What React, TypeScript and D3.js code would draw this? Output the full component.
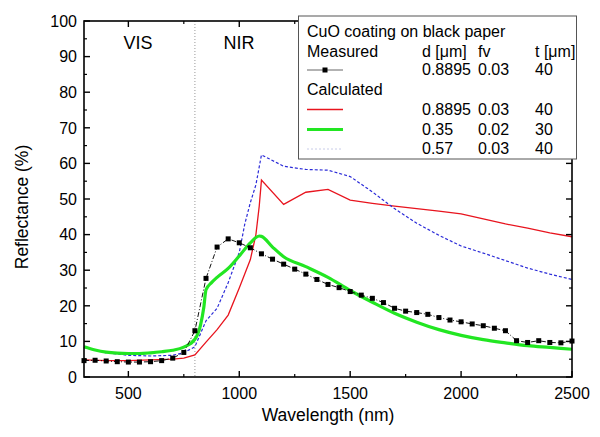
import { scaleLinear, line, curveMonotoneX } from "d3";

const width = 600;
const height = 437;

// measured CuO coating on black paper
const measuredWl = [
  300, 350, 400, 450, 500, 550, 600, 650, 700, 750, 800, 850, 900, 950, 1000,
  1050, 1100, 1150, 1200, 1250, 1300, 1350, 1400, 1450, 1500, 1550, 1600, 1650,
  1700, 1750, 1800, 1850, 1900, 1950, 2000, 2050, 2100, 2150, 2200, 2250, 2300,
  2350, 2400, 2450, 2500,
];
const measuredR = [
  4.6, 4.7, 4.5, 4.3, 4.2, 4.2, 4.3, 4.6, 5.3, 6.9, 13.0, 27.7, 36.5, 38.8,
  37.7, 36.3, 34.6, 33.1, 31.7, 30.3, 28.9, 27.4, 26.0, 25.1, 24.0, 23.0, 22.1,
  20.9, 19.3, 18.5, 18.1, 17.6, 16.7, 16.0, 15.5, 14.9, 14.4, 13.7, 13.0, 10.2,
  9.7, 10.2, 9.7, 9.6, 10.1,
];

// calculated, d = 0.8895
const redWl = [
  300, 400, 500, 600, 700, 750, 800, 850, 900, 950, 1000, 1050, 1075, 1090,
  1100, 1200, 1300, 1400, 1500, 1600, 1700, 1800, 1900, 2000, 2100, 2200, 2300,
  2400, 2500,
];
const redR = [
  4.8, 4.6, 4.6, 4.8, 5.0, 5.3, 6.2, 9.8, 13.3, 17.4, 25.0, 33.0, 40.0, 48.0,
  55.3, 48.5, 51.9, 52.7, 49.7, 48.8, 48.0, 47.3, 46.6, 45.8, 44.4, 43.0, 41.8,
  40.5, 39.4,
];

// calculated, d = 0.35
const greenWl = [
  300, 350, 400, 450, 500, 550, 600, 650, 700, 750, 800, 825, 840, 850, 875,
  900, 950, 1000, 1050, 1090, 1100, 1150, 1200, 1300, 1400, 1500, 1600, 1700,
  1800, 1900, 2000, 2100, 2200, 2300, 2400, 2500,
];
const greenR = [
  8.5, 7.6, 7.0, 6.7, 6.6, 6.6, 6.8, 7.1, 7.5, 8.4, 10.6, 14.5, 19.5, 24.5,
  26.5, 28.0, 30.5, 34.0, 37.7, 39.6, 39.5, 36.5, 33.8, 31.0, 28.0, 24.3, 21.0,
  17.9, 15.4, 13.3, 11.7, 10.5, 9.6, 8.8, 8.3, 7.8,
];

// calculated, d = 0.57
const blueWl = [
  300, 400, 500, 600, 700, 750, 800, 850, 900, 950, 1000, 1025, 1050, 1075,
  1100, 1200, 1300, 1400, 1500, 1600, 1700, 1800, 1900, 2000, 2100, 2200, 2300,
  2400, 2500,
];
const blueR = [
  8.3, 6.8, 6.1, 5.9, 6.1, 6.8, 8.5, 15.8, 19.3, 26.5, 35.0, 43.0, 49.0, 54.0,
  62.4, 59.2, 58.3, 58.1, 56.3, 52.0, 47.3, 43.2, 39.8, 36.8, 34.8, 32.7, 30.6,
  28.9, 27.4,
];

const xMajor = [500, 1000, 1500, 2000, 2500];
const xMinor = [750, 1250, 1750, 2250];
const yMajor = [0, 10, 20, 30, 40, 50, 60, 70, 80, 90, 100];
const yMinor = [5, 15, 25, 35, 45, 55, 65, 75, 85, 95];

const legendHeader = ["d [\u03bcm]", "fv", "t [\u03bcm]"];
const legendRows = [
  ["0.8895", "0.03", "40"],
  ["0.8895", "0.03", "40"],
  ["0.35", "0.02", "30"],
  ["0.57", "0.03", "40"],
];

const font = "'Liberation Sans', Arial, sans-serif";

const x = scaleLinear().domain([300, 2500]).range([84, 572]);
const y = scaleLinear().domain([0, 100]).range([377, 21]);

const zip = (xs: number[], ys: number[]) => xs.map((v, i) => [v, ys[i]] as [number, number]);

const App = () => {
  const straight = line<[number, number]>()
    .x((d) => x(d[0]))
    .y((d) => y(d[1]));
  const smooth = line<[number, number]>()
    .x((d) => x(d[0]))
    .y((d) => y(d[1]))
    .curve(curveMonotoneX);

  const [x0, x1] = x.range();
  const [y0, y1] = y.range();
  const colX = [422, 478, 535];

  return (
    <svg
      width={width}
      height={height}
      style={{ position: "absolute", left: 0, top: 0, background: "#fff" }}
      fontFamily={font}
    >
      {/* VIS / NIR border */}
      <line x1={x(800)} x2={x(800)} y1={y1} y2={y0} stroke="#999" strokeDasharray="1,2" />
      <text x={138} y={49} fontSize={18} textAnchor="middle">VIS</text>
      <text x={239} y={49} fontSize={18} textAnchor="middle">NIR</text>

      <path d={straight(zip(redWl, redR)) || ""} fill="none" stroke="#e8141e" strokeWidth={1.3} />
      <path
        d={straight(zip(blueWl, blueR)) || ""}
        fill="none"
        stroke="#2b2bd8"
        strokeWidth={1.2}
        strokeDasharray="3,2"
      />
      <path d={smooth(zip(greenWl, greenR)) || ""} fill="none" stroke="#22e622" strokeWidth={3.2} />
      <path
        d={straight(zip(measuredWl, measuredR)) || ""}
        fill="none"
        stroke="#111"
        strokeWidth={1}
        strokeDasharray="5,2,1,2"
      />
      {measuredWl.map((w, i) => (
        <rect key={w} x={x(w) - 2.5} y={y(measuredR[i]) - 2.5} width={5} height={5} fill="#000" />
      ))}

      {/* frame */}
      <rect x={x0} y={y1} width={x1 - x0} height={y0 - y1} fill="none" stroke="#000" strokeWidth={1.6} />
      {xMajor.map((t) => (
        <g key={"xM" + t}>
          <line x1={x(t)} x2={x(t)} y1={y0} y2={y0 - 6} stroke="#000" strokeWidth={1.4} />
          <line x1={x(t)} x2={x(t)} y1={y1} y2={y1 + 6} stroke="#000" strokeWidth={1.4} />
          <text x={x(t)} y={y0 + 22} fontSize={16} textAnchor="middle">{t}</text>
        </g>
      ))}
      {xMinor.map((t) => (
        <g key={"xm" + t}>
          <line x1={x(t)} x2={x(t)} y1={y0} y2={y0 - 3} stroke="#000" strokeWidth={1.2} />
          <line x1={x(t)} x2={x(t)} y1={y1} y2={y1 + 3} stroke="#000" strokeWidth={1.2} />
        </g>
      ))}
      {yMajor.map((t) => (
        <g key={"yM" + t}>
          <line x1={x0} x2={x0 + 6} y1={y(t)} y2={y(t)} stroke="#000" strokeWidth={1.4} />
          <line x1={x1} x2={x1 - 6} y1={y(t)} y2={y(t)} stroke="#000" strokeWidth={1.4} />
          <text x={x0 - 7} y={y(t)} dy="0.36em" fontSize={16} textAnchor="end">{t}</text>
        </g>
      ))}
      {yMinor.map((t) => (
        <g key={"ym" + t}>
          <line x1={x0} x2={x0 + 3} y1={y(t)} y2={y(t)} stroke="#000" strokeWidth={1.2} />
          <line x1={x1} x2={x1 - 3} y1={y(t)} y2={y(t)} stroke="#000" strokeWidth={1.2} />
        </g>
      ))}

      <text x={(x0 + x1) / 2} y={421} fontSize={17.5} textAnchor="middle">Wavelength (nm)</text>
      <text
        transform={`translate(28,${(y0 + y1) / 2 + 8}) rotate(-90)`}
        fontSize={17.5}
        textAnchor="middle"
      >
        Reflectance (%)
      </text>

      {/* legend */}
      <g fontSize={16}>
        <rect x={298.5} y={16} width={278} height={143} fill="#fff" stroke="#555" strokeWidth={1} />
        <text x={307} y={37}>CuO coating on black paper</text>
        <text x={307} y={56.5}>Measured</text>
        {legendHeader.map((h, i) => (
          <text key={h + i} x={colX[i]} y={56.5}>{h}</text>
        ))}
        <line x1={307} x2={343} y1={70} y2={70} stroke="#666" />
        <rect x={322.5} y={67.5} width={5} height={5} fill="#000" />
        <text x={307} y={95}>Calculated</text>
        <line x1={307} x2={343} y1={109.5} y2={109.5} stroke="#e8141e" strokeWidth={1.3} />
        <line x1={307} x2={343} y1={129.5} y2={129.5} stroke="#22e622" strokeWidth={3.2} />
        <line x1={307} x2={343} y1={149} y2={149} stroke="#c8cce8" strokeWidth={1} strokeDasharray="2,2" />
        {legendRows.map((row, r) =>
          row.map((v, c) => (
            <text key={r + "-" + c} x={colX[c]} y={[75, 115, 134.5, 154][r]}>{v}</text>
          ))
        )}
      </g>
    </svg>
  );
};

export default App;
